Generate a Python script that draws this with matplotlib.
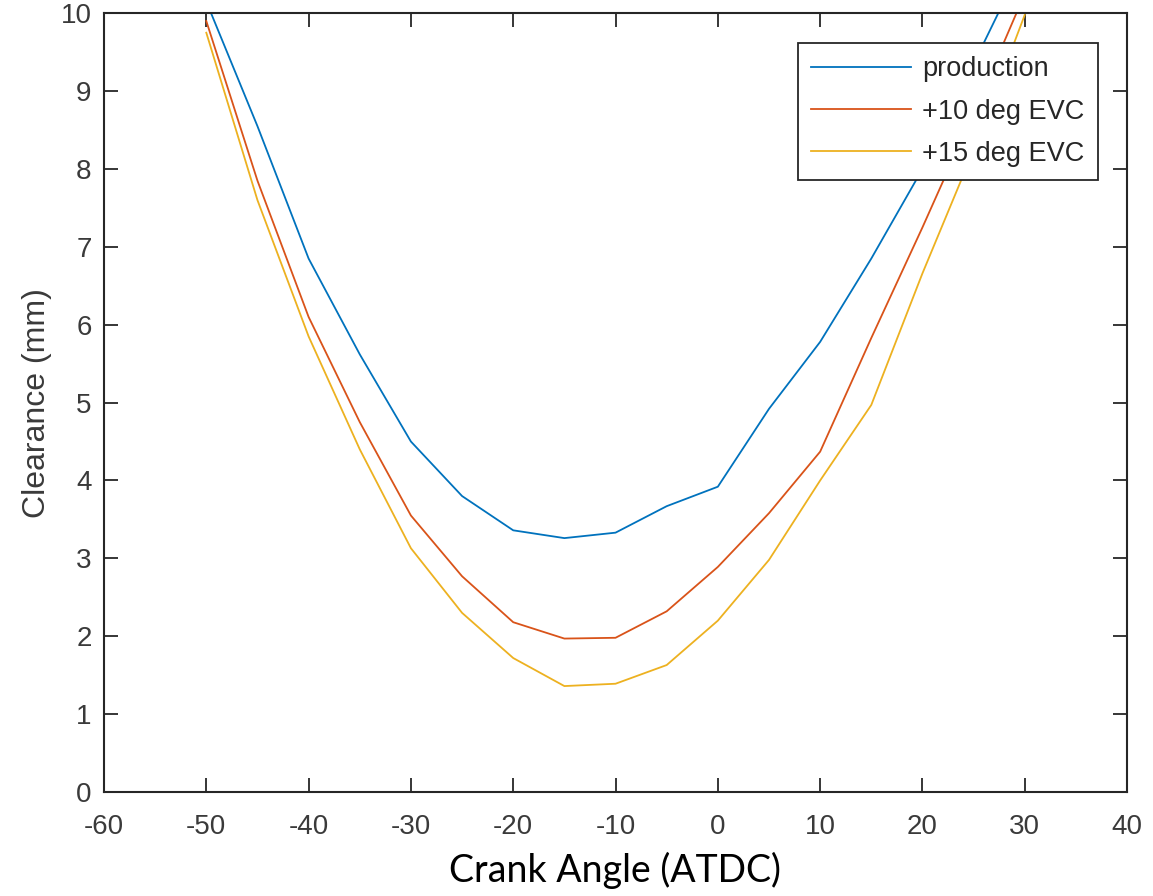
import matplotlib
matplotlib.use("Agg")
import matplotlib.pyplot as plt

# Crank angle (deg ATDC) and valve-to-piston clearance (mm)
crank_angle = [-50, -45, -40, -35, -30, -25, -20, -15, -10, -5, 0, 5, 10, 15, 20, 25, 30]
production = [10.15, 8.55, 6.85, 5.62, 4.50, 3.80, 3.36, 3.26, 3.33, 3.67, 3.92, 4.92, 5.78, 6.85, 8.00, 9.35, 10.70]
evc_plus10 = [9.90, 7.85, 6.10, 4.75, 3.55, 2.77, 2.18, 1.97, 1.98, 2.32, 2.89, 3.58, 4.37, 5.83, 7.25, 8.72, 10.25]
evc_plus15 = [9.75, 7.60, 5.85, 4.40, 3.13, 2.30, 1.72, 1.36, 1.39, 1.63, 2.20, 2.98, 4.00, 4.97, 6.66, 8.24, 9.98]

series_labels = ["production", "+10 deg EVC", "+15 deg EVC"]
series_colors = ["#0072BD", "#D95319", "#EDB120"]
x_ticks = [-60, -50, -40, -30, -20, -10, 0, 10, 20, 30, 40]
y_ticks = [0, 1, 2, 3, 4, 5, 6, 7, 8, 9, 10]

plt.rcParams["font.family"] = ["Liberation Sans", "DejaVu Sans"]
plt.rcParams["axes.unicode_minus"] = False

fig = plt.figure(figsize=(11.53, 8.96), dpi=100)
ax = fig.add_axes([0.0902, 0.1161, 0.8873, 0.8691])

for ys, lab, col in zip([production, evc_plus10, evc_plus15], series_labels, series_colors):
    ax.plot(crank_angle, ys, color=col, lw=1.3, label=lab)

ax.set_xlim(-60, 40)
ax.set_ylim(0, 10)
ax.set_xticks(x_ticks)
ax.set_yticks(y_ticks)

axis_color = "#262626"
for sp in ax.spines.values():
    sp.set_color(axis_color)
    sp.set_linewidth(1.5)

ax.tick_params(axis="both", which="major", direction="in", length=10, width=1.3,
               colors=axis_color, labelcolor="#3a3a3a", labelsize=20,
               top=True, right=True)
ax.tick_params(axis="x", pad=16)
ax.tick_params(axis="y", pad=9)

ax.set_ylabel("Clearance (mm)", fontsize=23, color="#3a3a3a", labelpad=6)

fig.text(0.5335, 0.029, "Crank Angle (ATDC)", fontsize=27, family=["Lato", "DejaVu Sans"],
         color="black", ha="center", va="center")

leg = ax.legend(loc="upper right", bbox_to_anchor=(0.9717, 0.962), borderaxespad=0,
                fontsize=19.5, frameon=True, fancybox=False, framealpha=1,
                edgecolor=axis_color, handlelength=3.7, handletextpad=0.4,
                labelspacing=0.6, borderpad=0.5)
leg.get_frame().set_linewidth(1.3)
for t in leg.get_texts():
    t.set_color("#262626")

fig.savefig("out.png", dpi=100)
